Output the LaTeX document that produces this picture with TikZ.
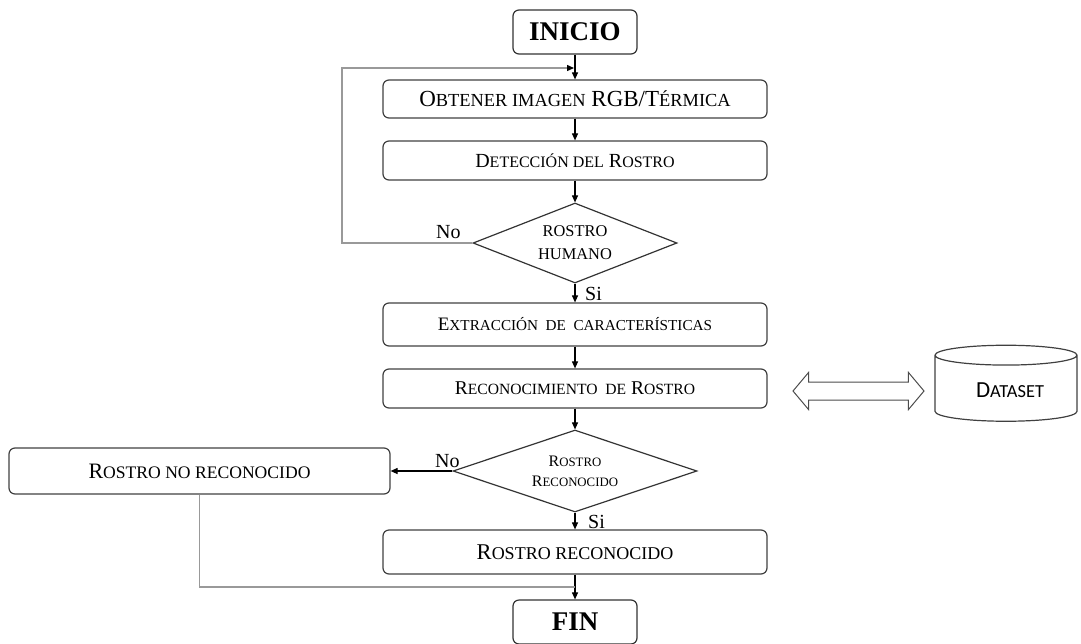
\documentclass[tikz,border=0pt]{standalone}
\usepackage{fontspec}
\setmainfont{Liberation Serif}
\newfontfamily\dsfont{Carlito}
\usetikzlibrary{shapes.geometric, shapes.symbols, shapes.arrows, arrows.meta}
\makeatletter
\newcommand{\smc}[1]{{\@tempdima=\f@size pt\relax\@tempdima=0.8\@tempdima
  \fontsize{\strip@pt\@tempdima}{\f@baselineskip}\selectfont #1}}
\makeatother
\tikzset{
  stage/.style={draw=black!75, line width=1.2pt, rounded corners=6pt,
      minimum width=384pt, inner sep=0pt},
  terminal/.style={draw=black!80, line width=1.2pt, rounded corners=6pt,
      minimum width=124pt, minimum height=44pt, inner sep=0pt,
      font=\fontsize{27}{30}\selectfont\bfseries},
  decision/.style={diamond, draw=black!80, line width=1.2pt, inner sep=0pt,
      aspect=2.5, align=center},
  flow/.style={-{Triangle[length=7pt,width=6pt]}, line width=1.1pt},
  back/.style={draw=black!40, line width=1.3pt},
  answer/.style={font=\fontsize{20}{22}\selectfont, inner sep=0pt},
}

\begin{document}
\begin{tikzpicture}[x=1pt, y=-1pt]
  \useasboundingbox (0,0) rectangle (1081,643);
  % main column
  \node[terminal] (inicio) at (575,32) {INICIO};
  \node[stage, minimum height=38pt, font=\fontsize{23}{26}\selectfont] (rgb) at (575,99)
    {O\smc{BTENER IMAGEN} RGB/T\smc{ÉRMICA}};
  \node[stage, minimum height=39pt, font=\fontsize{20}{24}\selectfont] (detect) at (575,160.5)
    {D\smc{ETECCIÓN DEL} R\smc{OSTRO}};
  \node[decision, minimum width=204pt, minimum height=80pt, font=\fontsize{20.5}{23}\selectfont] (human) at (575,243)
    {\smc{ROSTRO}\\\smc{HUMANO}};
  \node[stage, minimum height=43pt, font=\fontsize{19}{23}\selectfont] (extract) at (575,324.5)
    {E\smc{XTRACCIÓN\ \ DE\ \ CARACTERÍSTICAS}};
  \node[stage, minimum height=39pt, font=\fontsize{19.5}{23}\selectfont] (recog) at (575,388.5)
    {R\smc{ECONOCIMIENTO\ \ DE} R\smc{OSTRO}};
  \node[decision, minimum width=244pt, minimum height=82pt, font=\fontsize{16}{20}\selectfont] (known) at (575,471)
    {R\smc{OSTRO}\\R\smc{ECONOCIDO}};
  \node[stage, minimum height=44pt, font=\fontsize{22.5}{26}\selectfont] (found) at (575,552)
    {R\smc{OSTRO RECONOCIDO}};
  \node[terminal] (fin) at (575,622) {FIN};
  % side nodes
  \node[stage, minimum width=381pt, minimum height=46pt, font=\fontsize{22}{26}\selectfont] (unknown) at (199.5,471)
    {R\smc{OSTRO NO RECONOCIDO}};
  \node[double arrow, draw=black!70, line width=1pt, inner xsep=0pt, inner ysep=8.5pt,
    minimum width=0pt, minimum height=131pt, double arrow head extend=9.5pt,
    double arrow tip angle=100] (link) at (858.5,391) {};
  \node[cylinder, shape border rotate=90, draw=black!75, line width=1.2pt,
    aspect=0.24, minimum width=142pt, minimum height=76pt,
    font=\dsfont\fontsize{23}{26}\selectfont] (dataset) at (1006,390) {\hspace{8pt}D\smc{ATASET}};
  % answers
  \node[answer, anchor=base west] (no1) at (436,238) {No};
  \node[answer, anchor=base west] (si1) at (585,300) {Si};
  \node[answer, anchor=base west] (no2) at (435,467) {No};
  \node[answer, anchor=base west] (si2) at (588,528) {Si};
  % connectors
  \draw[flow] (inicio) -- (rgb);
  \draw[flow] (rgb) -- (detect);
  \draw[flow] (detect) -- (human);
  \draw[flow] (human) -- (extract);
  \draw[flow] (extract) -- (recog);
  \draw[flow] (recog) -- (known);
  \draw[flow] (known) -- (found);
  \draw[flow] (found) -- (fin);
  \draw[flow] (known) -- (unknown);
  % loops back
  \coordinate (corner) at (342,68);
  \coordinate (entry) at (574,68);
  \coordinate (merge) at (575,587);
  \draw[back, -{Triangle[length=7pt,width=6pt,color=black]}] (human.west) -| (corner) -- (entry);
  \draw[back] (unknown.south) |- (merge);
\end{tikzpicture}
\end{document}
